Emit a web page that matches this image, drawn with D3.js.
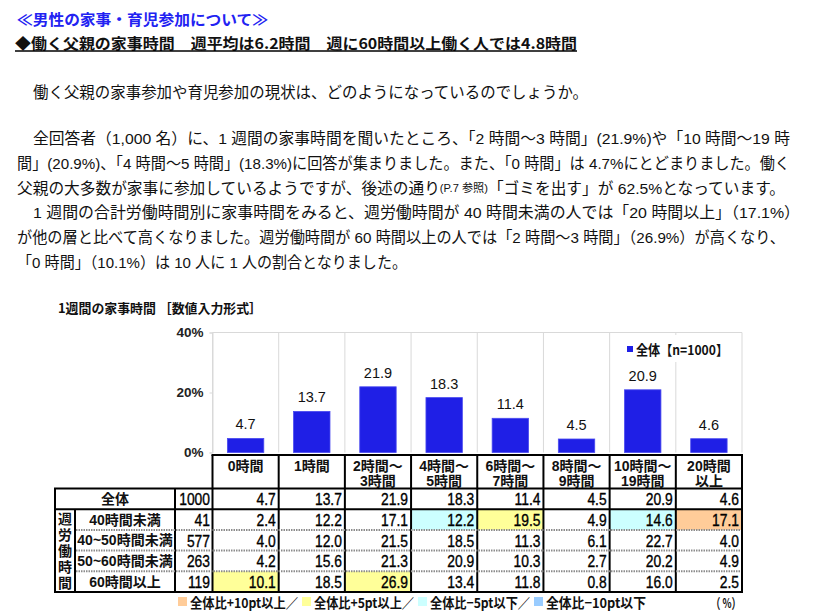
<!DOCTYPE html>
<html><head><meta charset="utf-8">
<script src="https://cdn.jsdelivr.net/npm/d3@7"></script>
<style>body{margin:0;background:#fff}svg{display:block}</style>
</head><body>
<svg id="c" width="814" height="613"></svg>
<script>
// ---------- data ----------
const pageTitle = "≪男性の家事・育児参加について≫";
const headline = "◆働く父親の家事時間　週平均は6.2時間　週に60時間以上働く人では4.8時間";
const lead = "働く父親の家事参加や育児参加の現状は、どのようになっているのでしょうか。";
const paragraph = [
  "全回答者（1,000 名）に、1 週間の家事時間を聞いたところ、「2 時間～3 時間」(21.9%)や「10 時間～19 時",
  "間」(20.9%)、「4 時間～5 時間」(18.3%)に回答が集まりました。また、「0 時間」は 4.7%にとどまりました。働く",
  "父親の大多数が家事に参加しているようですが、後述の通り|(P.7 参照)|「ゴミを出す」が 62.5%となっています。",
  "1 週間の合計労働時間別に家事時間をみると、週労働時間が 40 時間未満の人では「20 時間以上」（17.1%）",
  "が他の層と比べて高くなりました。週労働時間が 60 時間以上の人では「2 時間～3 時間」（26.9%）が高くなり、",
  "「0 時間」（10.1%）は 10 人に 1 人の割合となりました。"
];
const chartTitle = "1週間の家事時間 ［数値入力形式］";
const categories = ["0時間","1時間","2時間～3時間","4時間～5時間","6時間～7時間","8時間～9時間","10時間～19時間","20時間以上"];
const categoryLines = [["0時間"],["1時間"],["2時間～","3時間"],["4時間～","5時間"],["6時間～","7時間"],["8時間～","9時間"],["10時間～","19時間"],["20時間","以上"]];
const seriesName = "全体【n=1000】";
const totalLabel = "全体";
const totalN = 1000;
const totalValues = [4.7,13.7,21.9,18.3,11.4,4.5,20.9,4.6];
const groupTitle = "週労働時間";
const groupLabels = ["40時間未満","40~50時間未満","50~60時間未満","60時間以上"];
const groupN = [41,577,263,119];
const under40 = [2.4,12.2,17.1,12.2,19.5,4.9,14.6,17.1];
const h40to50 = [4.0,12.0,21.5,18.5,11.3,6.1,22.7,4.0];
const h50to60 = [4.2,15.6,21.3,20.9,10.3,2.7,20.2,4.9];
const over60 = [10.1,18.5,26.9,13.4,11.8,0.8,16.0,2.5];
const yTicks = [0,20,40];
const highlightLabels = ["全体比+10pt以上／","全体比+5pt以上／","全体比−5pt以下／","全体比−10pt以下"];
const unitLabel = "（ %）";

// ---------- style ----------
const FONT = "'Liberation Sans','Noto Sans CJK JP',sans-serif";
const JP = "'Noto Sans CJK JP',sans-serif";
const BAR = "#1f1fe6";
const hlColors = ["#ffcc99","#ffff99","#ccffff","#99ccff"];
const svg = d3.select("#c");

function fitText(x, y, str, len, o) {
  o = o || {};
  const t = svg.append("text").attr("x", x).attr("y", y)
    .attr("dominant-baseline", "central")
    .attr("font-family", o.family || FONT)
    .attr("font-size", o.size || 15)
    .attr("font-weight", o.weight || "normal")
    .attr("fill", o.fill || "#111");
  if (len) t.attr("textLength", len).attr("lengthAdjust", "spacingAndGlyphs");
  const parts = str.split("|");
  parts.forEach((p, i) => {
    const s = t.append("tspan").text(p);
    if (i === 1) s.attr("font-size", 11);
  });
  return t;
}

// ---------- header text ----------
fitText(17, 18, pageTitle, 251, {size: 15, weight: "bold", fill: "#2222f2", family: JP});
fitText(15, 42, headline, 562, {size: 15, weight: "bold", family: JP});
svg.append("line").attr("x1", 15).attr("x2", 577).attr("y1", 51).attr("y2", 51)
  .attr("stroke", "#000").attr("stroke-width", 1.5);
fitText(33, 92, lead, 555, {size: 15.5});

const paraX = [33, 17, 17, 33, 17, 17];
const paraLen = [757, 773, 768, 767, 768, 390];
paragraph.forEach((s, i) => fitText(paraX[i], 138 + i * 24.8, s, paraLen[i], {size: 15.5}));

fitText(58, 307, chartTitle, 204, {size: 13, weight: "bold", family: JP});

// ---------- chart ----------
const x = d3.scaleBand().domain(categories).range([212.5, 742]).padding(0);
const y = d3.scaleLinear().domain([0, 40]).range([452.5, 332.5]);
const bw = x.bandwidth();
const plotTop = y(40), plotBottom = y(0);

const grid = svg.append("g").attr("stroke", "#d9d9d9").attr("stroke-width", 1);
const bounds = categories.map(c => x(c)).concat([x.range()[1]]);
grid.selectAll("line.v").data(bounds).join("line")
  .attr("x1", d => d).attr("x2", d => d).attr("y1", plotTop).attr("y2", plotBottom);
grid.append("line").attr("x1", x.range()[0]).attr("x2", x.range()[1]).attr("y1", plotTop).attr("y2", plotTop);

const yAxis = d3.axisLeft(y).tickValues(yTicks).tickSize(3).tickFormat(d => d + "%");
const ya = svg.append("g").attr("transform", `translate(${x.range()[0]},0)`).call(yAxis);
ya.select(".domain").attr("stroke", "#d9d9d9");
ya.selectAll(".tick line").attr("stroke", "#d9d9d9");
ya.selectAll(".tick text").attr("x", -9).attr("font-family", FONT).attr("font-size", 13.5)
  .attr("font-weight", "bold").attr("fill", "#222");

svg.append("g").selectAll("rect").data(totalValues).join("rect")
  .attr("x", (d, i) => x(categories[i]) + bw * 0.225)
  .attr("width", bw * 0.55)
  .attr("y", d => y(d))
  .attr("height", d => y(0) - y(d))
  .attr("fill", BAR).attr("stroke", "#4a4af0").attr("stroke-width", 0.8);

svg.append("g").selectAll("text").data(totalValues).join("text")
  .attr("x", (d, i) => x(categories[i]) + bw / 2)
  .attr("y", d => y(d) - 9)
  .attr("text-anchor", "middle")
  .attr("font-family", FONT).attr("font-size", 14.5).attr("fill", "#111")
  .text(d => d3.format(".1f")(d));

// legend
svg.append("rect").attr("x", 621).attr("y", 335).attr("width", 117).attr("height", 27).attr("fill", "#fff");
svg.append("rect").attr("x", 627).attr("y", 346).attr("width", 6).attr("height", 6).attr("fill", BAR);
fitText(636, 349, seriesName, 92, {size: 13.5, weight: "bold", family: JP});

// ---------- table ----------
const rows = [{label: totalLabel, n: totalN, vals: totalValues}]
  .concat(groupLabels.map((g, i) => ({label: g, n: groupN[i], vals: [under40, h40to50, h50to60, over60][i]})));
const rowY = d3.scaleBand().domain(d3.range(rows.length)).range([488.5, 592]);
const rh = rowY.bandwidth();
const headTop = 455;
const tLeft = 55, gCol = 75, lCol = 175, nCol = x.range()[0], tRight = x.range()[1];

// highlight fills
rows.forEach((r, ri) => {
  if (ri === 0) return;
  r.vals.forEach((v, ci) => {
    const d = +(v - totalValues[ci]).toFixed(1);
    let col = null;
    if (d >= 10) col = hlColors[0];
    else if (d >= 5) col = hlColors[1];
    else if (d <= -10) col = hlColors[3];
    else if (d <= -5) col = hlColors[2];
    if (col) svg.append("rect").attr("x", x(categories[ci])).attr("y", rowY(ri))
      .attr("width", bw).attr("height", rh).attr("fill", col);
  });
});

// header labels
categoryLines.forEach((lines, i) => {
  lines.forEach((l, j) => {
    svg.append("text").attr("x", x(categories[i]) + bw / 2).attr("y", 465.5 + j * 15.5)
      .attr("text-anchor", "middle").attr("dominant-baseline", "central")
      .attr("font-family", FONT).attr("font-size", 14).attr("font-weight", "bold").attr("fill", "#111")
      .text(l);
  });
});

// row labels
rows.forEach((r, ri) => {
  const cy = rowY(ri) + rh / 2;
  svg.append("text").attr("x", ri === 0 ? (tLeft + lCol) / 2 : (gCol + lCol) / 2).attr("y", cy)
    .attr("text-anchor", "middle").attr("dominant-baseline", "central")
    .attr("font-family", FONT).attr("font-size", 14).attr("font-weight", "bold").attr("fill", "#111")
    .text(r.label);
  const num = (xr, s) => svg.append("text")
    .attr("transform", `translate(${xr},${cy + 0.5}) scale(0.84,1)`)
    .attr("text-anchor", "end").attr("dominant-baseline", "central")
    .attr("font-family", FONT).attr("font-size", 16.5).attr("fill", "#000")
    .attr("stroke", "#000").attr("stroke-width", 0.35)
    .text(s);
  num(nCol - 2.5, String(r.n));
  r.vals.forEach((v, ci) => num(x(categories[ci]) + bw - 3, d3.format(".1f")(v)));
});

// group title (vertical writing)
svg.append("text")
  .attr("x", (tLeft + gCol) / 2).attr("y", rowY(1) + 2)
  .attr("writing-mode", "vertical-rl")
  .style("writing-mode", "vertical-rl")
  .attr("text-anchor", "start")
  .attr("textLength", 592 - rowY(1) - 4).attr("lengthAdjust", "spacing")
  .attr("font-family", JP).attr("font-size", 14).attr("font-weight", "bold").attr("fill", "#111")
  .text(groupTitle);

// table lines
const lines = svg.append("g").attr("stroke", "#000").attr("stroke-width", 2).attr("fill", "none");
lines.append("line").attr("x1", nCol - 1).attr("x2", tRight + 1).attr("y1", headTop).attr("y2", headTop);
[rowY(0), rowY(1), 592].forEach(yy =>
  lines.append("line").attr("x1", tLeft - 1).attr("x2", tRight + 1).attr("y1", yy).attr("y2", yy));
bounds.forEach(bx => lines.append("line").attr("x1", bx).attr("x2", bx).attr("y1", headTop).attr("y2", 592));
[tLeft, lCol].forEach(bx => lines.append("line").attr("x1", bx).attr("x2", bx).attr("y1", rowY(0)).attr("y2", 592));
lines.append("line").attr("x1", gCol).attr("x2", gCol).attr("y1", rowY(1)).attr("y2", 592);
[2, 3, 4].forEach(ri => svg.append("line").attr("x1", gCol + 1).attr("x2", tRight - 1)
  .attr("y1", rowY(ri)).attr("y2", rowY(ri))
  .attr("stroke", "#8c8c8c").attr("stroke-width", 2).attr("stroke-dasharray", "1.5,1"));

// bottom legend
const legTextLen = [108, 100, 100, 100];
let lx = 178;
highlightLabels.forEach((lab, i) => {
  svg.append("rect").attr("x", lx).attr("y", 597).attr("width", 9).attr("height", 9).attr("fill", hlColors[i]);
  fitText(lx + 12, 602, lab, legTextLen[i], {size: 13.5, weight: "bold", family: JP});
  lx += 12 + legTextLen[i] + 4;
});
fitText(711, 602, unitLabel, 30, {size: 13.5, weight: "bold", family: JP});
</script>
</body></html>
